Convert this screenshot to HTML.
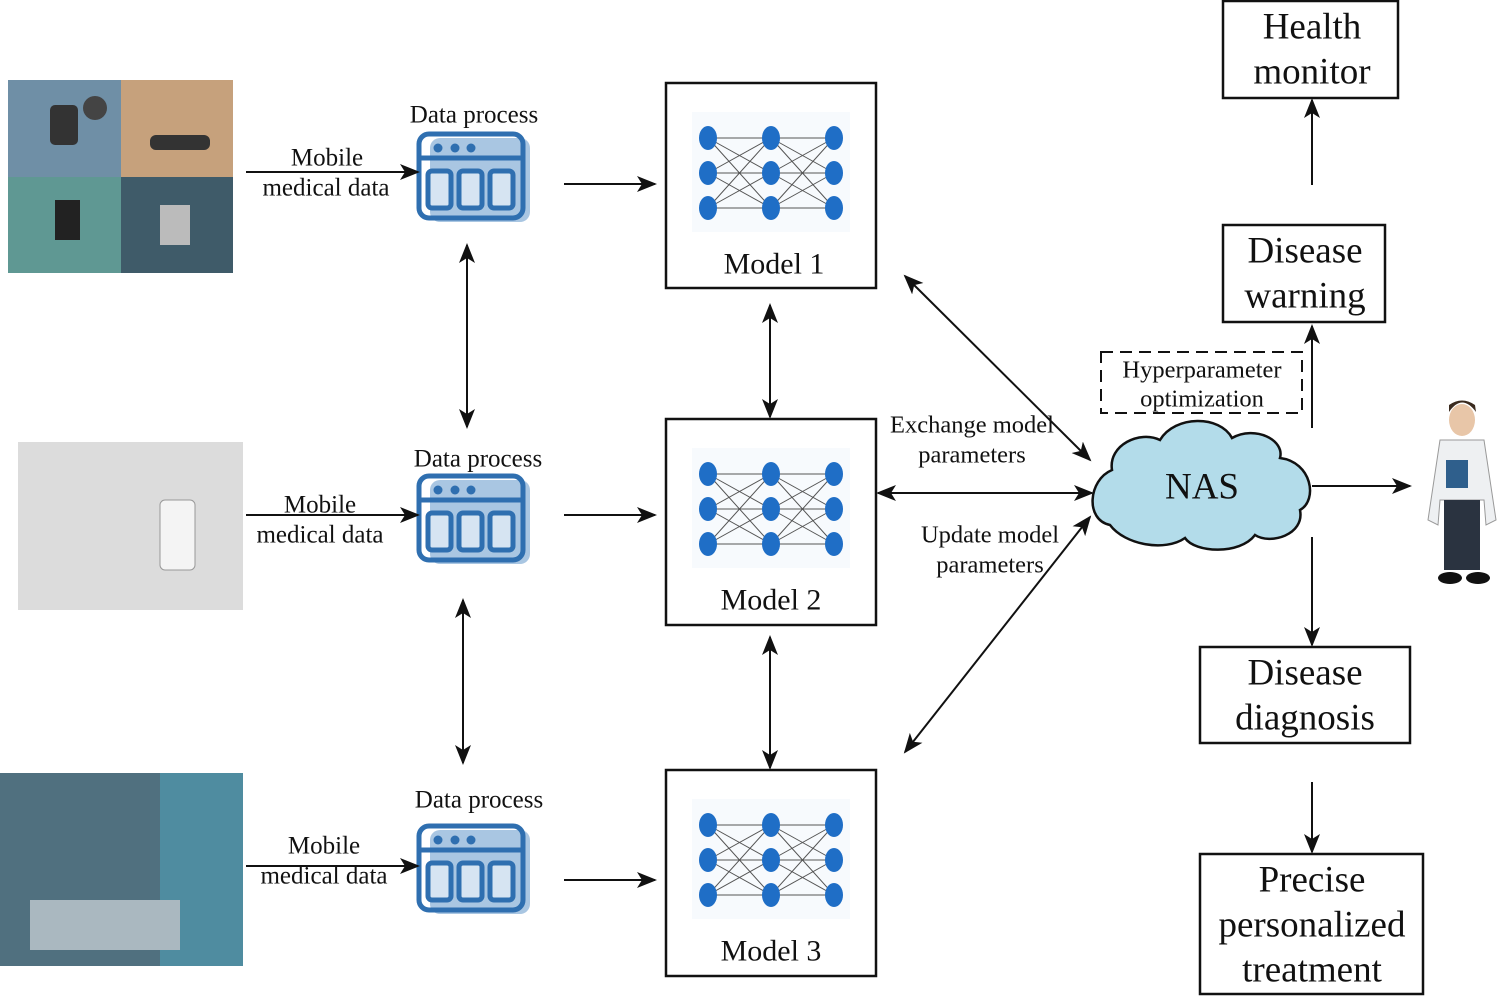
<!DOCTYPE html>
<html><head><meta charset="utf-8"><style>body{margin:0;background:#fff}svg{display:block}text{font-family:"Liberation Serif",serif;fill:#111}</style></head><body>
<svg width="1500" height="996" viewBox="0 0 1500 996" xmlns="http://www.w3.org/2000/svg">
<defs>
<marker id="b" viewBox="0 0 10 10" refX="9" refY="5" markerWidth="20" markerHeight="20" markerUnits="userSpaceOnUse" orient="auto-start-reverse"><path d="M0,1 L10,5 L0,9 L2.5,5 z" fill="#111"/></marker>
<g id="icon">
<rect x="430" y="138" width="100" height="84" rx="10" fill="#a9c6e2"/>
<rect x="419" y="134" width="104" height="84" rx="10" fill="none" stroke="#2f6fb0" stroke-width="5"/>
<line x1="419" y1="158" x2="523" y2="158" stroke="#2f6fb0" stroke-width="5"/>
<circle cx="438" cy="148" r="4.5" fill="#2f6fb0"/><circle cx="455" cy="148" r="4.5" fill="#2f6fb0"/><circle cx="471" cy="148" r="4.5" fill="#2f6fb0"/>
<rect x="428" y="171" width="23" height="37" rx="4" fill="#d6e4f2" stroke="#2f6fb0" stroke-width="5"/>
<rect x="459" y="171" width="23" height="37" rx="4" fill="#d6e4f2" stroke="#2f6fb0" stroke-width="5"/>
<rect x="490" y="171" width="23" height="37" rx="4" fill="#d6e4f2" stroke="#2f6fb0" stroke-width="5"/>
</g>
<g id="net">
<rect x="692" y="112" width="158" height="120" fill="#f7fafd"/>
<g stroke="#555" stroke-width="1">
<path d="M708,138 L771,138 L834,138 M708,173 L771,173 L834,173 M708,208 L771,208 L834,208 M708,138 L771,173 M708,138 L771,208 M708,173 L771,138 M708,173 L771,208 M708,208 L771,138 M708,208 L771,173 M771,138 L834,173 M771,138 L834,208 M771,173 L834,138 M771,173 L834,208 M771,208 L834,138 M771,208 L834,173"/>
</g>
<g fill="#1f6ec6">
<ellipse cx="708" cy="138" rx="9" ry="12"/><ellipse cx="708" cy="173" rx="9" ry="12"/><ellipse cx="708" cy="208" rx="9" ry="12"/>
<ellipse cx="771" cy="138" rx="9" ry="12"/><ellipse cx="771" cy="173" rx="9" ry="12"/><ellipse cx="771" cy="208" rx="9" ry="12"/>
<ellipse cx="834" cy="138" rx="9" ry="12"/><ellipse cx="834" cy="173" rx="9" ry="12"/><ellipse cx="834" cy="208" rx="9" ry="12"/>
</g>
</g>
</defs>

<rect x="8" y="80" width="113" height="97" fill="#6f8fa6"/>
<rect x="121" y="80" width="112" height="97" fill="#c6a17c"/>
<rect x="8" y="177" width="113" height="96" fill="#5f9893"/>
<rect x="121" y="177" width="112" height="96" fill="#3f5b69"/>
<rect x="50" y="105" width="28" height="40" rx="5" fill="#333"/><circle cx="95" cy="108" r="12" fill="#444"/>
<rect x="150" y="135" width="60" height="15" rx="6" fill="#333"/><rect x="55" y="200" width="25" height="40" fill="#222"/><rect x="160" y="205" width="30" height="40" fill="#bbb"/>
<rect x="18" y="442" width="225" height="168" fill="#dcdcdc"/>
<rect x="160" y="500" width="35" height="70" rx="5" fill="#f4f4f4" stroke="#999"/>
<rect x="0" y="773" width="243" height="193" fill="#50707f"/>
<rect x="160" y="773" width="83" height="193" fill="#4f8ca0"/>
<rect x="30" y="900" width="150" height="50" fill="#aab8c0"/>

<use href="#icon"/>
<use href="#icon" y="342"/>
<use href="#icon" y="692"/>
<g font-size="25" text-anchor="middle" dominant-baseline="central">
<text x="474" y="115">Data process</text>
<text x="478" y="459">Data process</text>
<text x="479" y="800">Data process</text>
<text x="327" y="158">Mobile</text><text x="326" y="188">medical data</text>
<text x="320" y="505">Mobile</text><text x="320" y="535">medical data</text>
<text x="324" y="846">Mobile</text><text x="324" y="876">medical data</text>
</g>

<g stroke="#111" stroke-width="2" fill="none">
<line x1="246" y1="172" x2="418" y2="172" marker-end="url(#b)"/>
<line x1="246" y1="515" x2="418" y2="515" marker-end="url(#b)"/>
<line x1="246" y1="866" x2="418" y2="866" marker-end="url(#b)"/>
<line x1="564" y1="184" x2="655" y2="184" marker-end="url(#b)"/>
<line x1="564" y1="515" x2="655" y2="515" marker-end="url(#b)"/>
<line x1="564" y1="880" x2="655" y2="880" marker-end="url(#b)"/>
<line x1="467" y1="245" x2="467" y2="427" marker-start="url(#b)" marker-end="url(#b)"/>
<line x1="463" y1="600" x2="463" y2="763" marker-start="url(#b)" marker-end="url(#b)"/>
<line x1="770" y1="305" x2="770" y2="417" marker-start="url(#b)" marker-end="url(#b)"/>
<line x1="770" y1="637" x2="770" y2="768" marker-start="url(#b)" marker-end="url(#b)"/>
<line x1="905" y1="276" x2="1090" y2="460" marker-start="url(#b)" marker-end="url(#b)"/>
<line x1="878" y1="493" x2="1092" y2="493" marker-start="url(#b)" marker-end="url(#b)"/>
<line x1="1090" y1="517" x2="905" y2="752" marker-start="url(#b)" marker-end="url(#b)"/>
<line x1="1312" y1="428" x2="1312" y2="326" marker-end="url(#b)"/>
<line x1="1312" y1="185" x2="1312" y2="100" marker-end="url(#b)"/>
<line x1="1312" y1="486" x2="1410" y2="486" marker-end="url(#b)"/>
<line x1="1312" y1="537" x2="1312" y2="645" marker-end="url(#b)"/>
<line x1="1312" y1="782" x2="1312" y2="852" marker-end="url(#b)"/>
</g>

<g fill="#fff" stroke="#111" stroke-width="2.5">
<rect x="666" y="83" width="210" height="205"/>
<rect x="666" y="419" width="210" height="206"/>
<rect x="666" y="770" width="210" height="206"/>
</g>
<use href="#net"/>
<use href="#net" y="336"/>
<use href="#net" y="687"/>
<g font-size="30" text-anchor="middle" dominant-baseline="central">
<text x="774" y="264">Model 1</text><text x="771" y="600">Model 2</text><text x="771" y="951">Model 3</text>
</g>

<g font-size="24.5" text-anchor="middle" dominant-baseline="central">
<text x="972" y="425">Exchange model</text><text x="972" y="455">parameters</text>
<text x="990" y="535">Update model</text><text x="990" y="565">parameters</text>
</g>

<path d="M1110,525 C1085,520 1088,480 1112,470 C1108,445 1140,430 1160,440 C1175,415 1220,415 1232,438 C1255,425 1285,440 1280,458 C1312,462 1318,500 1300,510 C1305,535 1270,545 1255,535 C1240,555 1195,553 1185,538 C1165,552 1125,545 1110,525 Z" fill="#b3dcea" stroke="#111" stroke-width="2.5"/>
<text x="1202" y="487" font-size="37" text-anchor="middle" dominant-baseline="central">NAS</text>

<rect x="1101" y="352" width="201" height="61" fill="none" stroke="#111" stroke-width="2" stroke-dasharray="12,7"/>
<g font-size="24.5" text-anchor="middle" dominant-baseline="central">
<text x="1202" y="370">Hyperparameter</text><text x="1202" y="399">optimization</text>
</g>

<g fill="#fff" stroke="#111" stroke-width="2.5">
<rect x="1223" y="1" width="175" height="97"/>
<rect x="1223" y="225" width="162" height="97"/>
<rect x="1200" y="647" width="210" height="96"/>
<rect x="1200" y="854" width="223" height="140"/>
</g>
<g font-size="37" text-anchor="middle" dominant-baseline="central">
<text x="1312" y="27">Health</text><text x="1312" y="72">monitor</text>
<text x="1305" y="251">Disease</text><text x="1305" y="296">warning</text>
<text x="1305" y="673">Disease</text><text x="1305" y="718">diagnosis</text>
<text x="1312" y="880">Precise</text><text x="1312" y="925">personalized</text><text x="1312" y="970">treatment</text>
</g>

<g>
<ellipse cx="1462" cy="420" rx="13" ry="16" fill="#e8c6a8"/>
<path d="M1449,412 Q1462,393 1476,412 L1475,405 Q1462,396 1449,405 z" fill="#3a2a1e"/>
<path d="M1440,440 L1484,440 L1496,520 L1486,525 L1484,500 L1440,500 L1438,525 L1428,520 z" fill="#eef0f2" stroke="#999"/>
<rect x="1446" y="460" width="22" height="28" fill="#2f5f8c"/>
<rect x="1444" y="500" width="36" height="70" fill="#2a3340"/>
<ellipse cx="1450" cy="578" rx="12" ry="6" fill="#111"/><ellipse cx="1478" cy="578" rx="12" ry="6" fill="#111"/>
</g>
</svg>
</body></html>
